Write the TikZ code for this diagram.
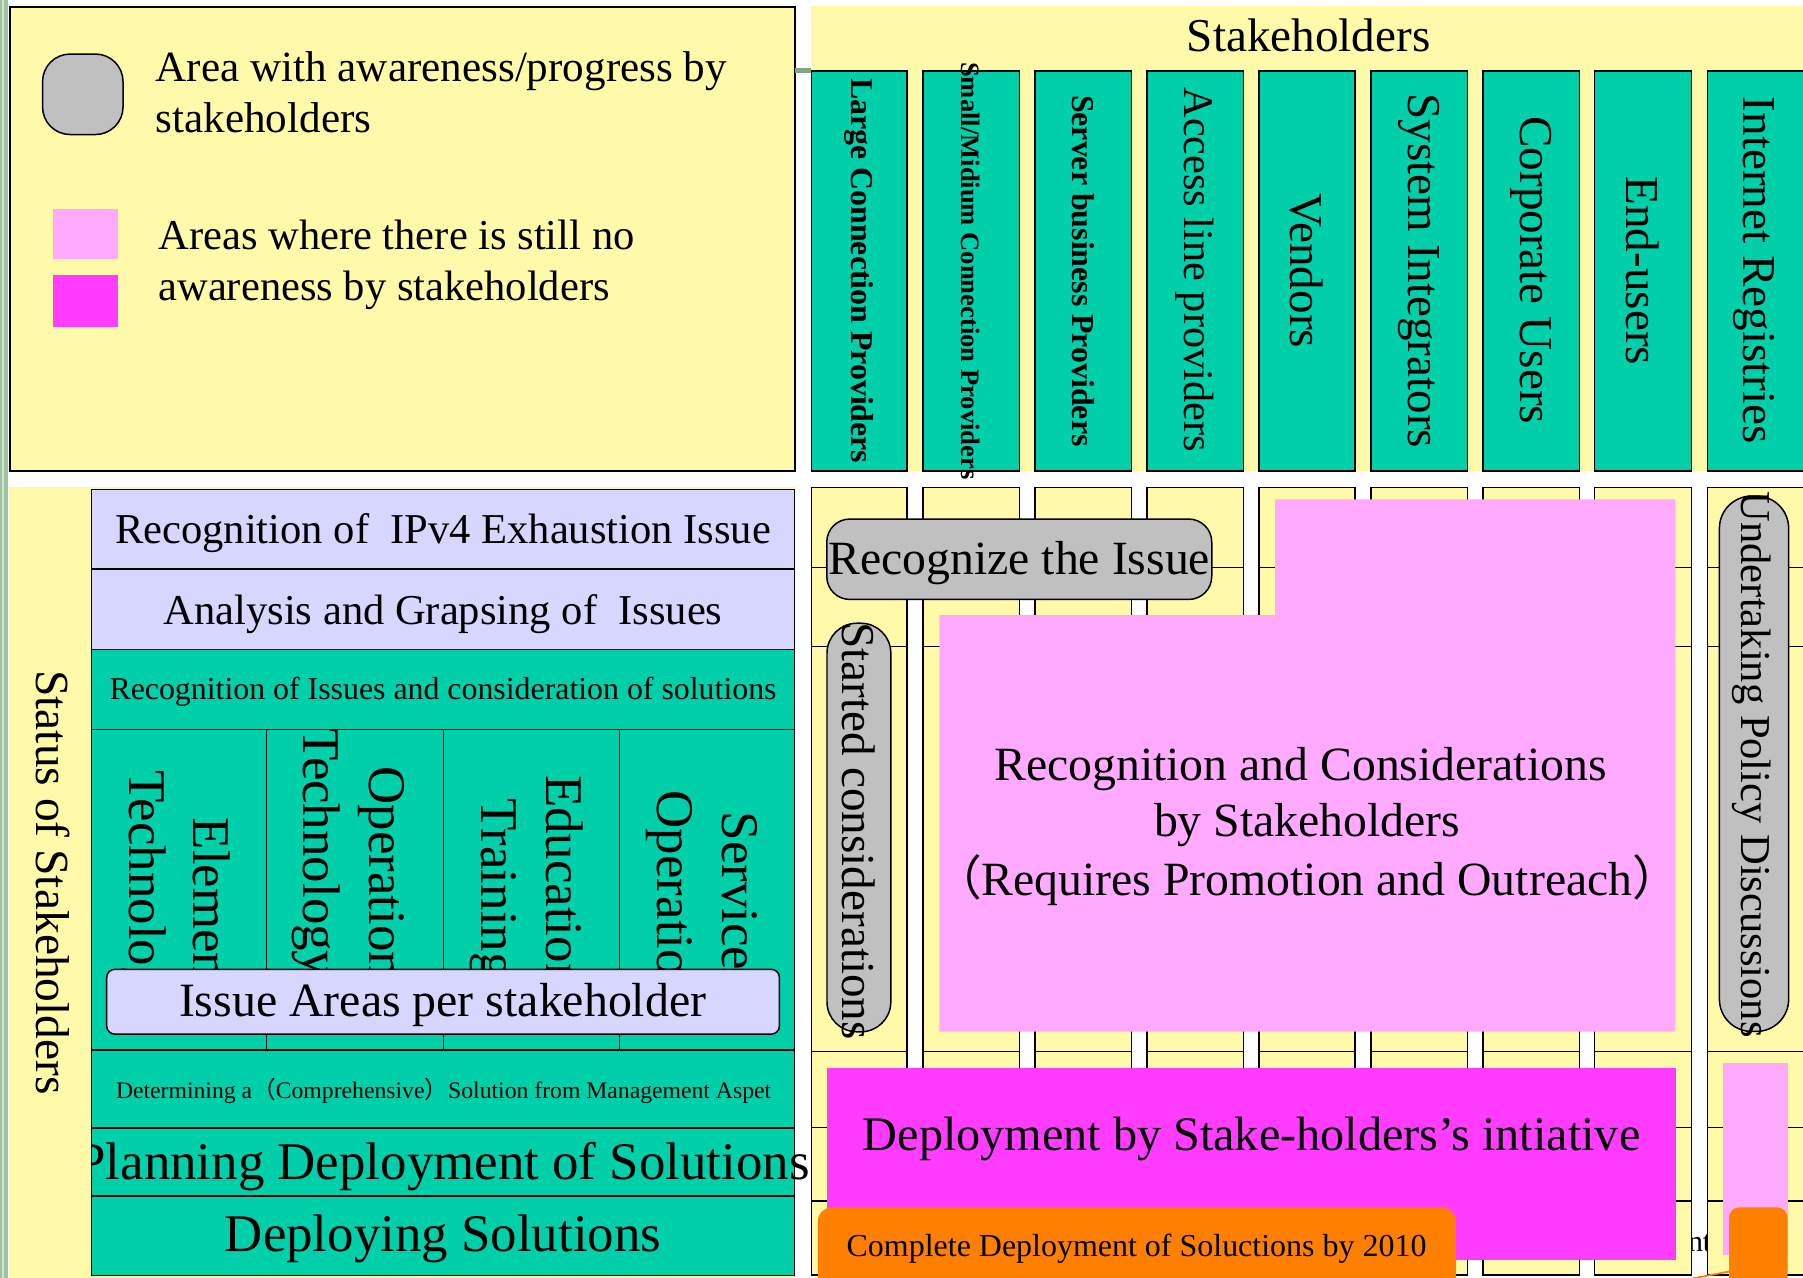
\documentclass[tikz,border=0pt]{standalone}
\usepackage{fontspec}
\setmainfont{Liberation Serif}
\newfontfamily\cjkfont{Noto Sans CJK SC}
\definecolor{cYel}{HTML}{FFFAAA}
\definecolor{cTeal}{HTML}{00D0AA}
\definecolor{cLav}{HTML}{D6D6FF}
\definecolor{cGray}{HTML}{C0C0C0}
\definecolor{cPink}{HTML}{FFAAFF}
\definecolor{cMag}{HTML}{FF3CFF}
\definecolor{cOrg}{HTML}{FF7F00}
\definecolor{cStrip}{HTML}{9EC29E}
\newcommand\myfs[1]{\fontsize{#1}{#1}\selectfont}
\tikzset{
  txt/.style={inner sep=0pt, outer sep=0pt, text=black, font=\myfs{#1}},
  vtxt/.style={txt=#1, rotate=-90},
  lw/.style={draw=black, line width=1.3pt},
  cellbox/.style={lw, fill=cYel},
  colbox/.style={lw, fill=cTeal},
  lavbox/.style={lw, fill=cLav},
  graybox/.style={lw, fill=cGray},
}
\begin{document}
\begin{tikzpicture}[x=1pt,y=-1pt]
\clip (0,0) rectangle (1568,1111);
\fill[white] (0,0) rectangle (1568,1111);
% left strip
\fill[cStrip] (0,0) rectangle (7.2,1111);
\fill[cStrip!45!white] (1.6,0) rectangle (3.6,1111);

% ---------- legend ----------
\draw[fill=cYel, draw=black, line width=1.8pt] (9,6) rectangle (691,409.5);
\draw[graybox, rounded corners=24pt] (37,47) rectangle (107,117);
\fill[cPink] (46,182) rectangle (103,225);
\fill[cMag] (46,239) rectangle (103,284);
\node[txt=37.5, anchor=base west] (leg1a) at (135.5,71) {Area with awareness/progress by};
\node[txt=37.5, anchor=base west] (leg1b) at (135.5,115.1) {stakeholders};
\node[txt=37, anchor=base west] (leg2a) at (137.8,217.4) {Areas where there is still no};
\node[txt=37, anchor=base west] (leg2b) at (137.8,261) {awareness by stakeholders};
\fill[cStrip!85!black] (691,59) rectangle (705.5,63.7);

% ---------- stakeholders header ----------
\fill[cYel] (705.5,5.5) rectangle (1570,410);
\node[txt=41, anchor=base] (stk) at (1138,45) {Stakeholders};
\foreach \x/\w in {705.8/82.8,802.6/84,900/84,997.4/84,1094.7/83.5,1192.1/84,1289.5/84,1386.8/84.1,1484.8/100}{
  \draw[colbox] (\x,61.8) rectangle ({\x+\w},409.8);
}
\node[vtxt=27.7] (h1) at (747.3,235.5) {\bfseries Large Connection Providers};
\node[vtxt=23.1] (h2) at (844.4,235.5) {\bfseries Small/Midium Connection Providers};
\node[vtxt=27.7] (h3) at (941.8,235.5) {\bfseries Server business Providers};
\node[vtxt=36.8] (h4) at (1039.2,234.5) {Access line providers};
\node[vtxt=41] (h5) at (1136.4,235.5) {Vendors};
\node[vtxt=41] (h6) at (1233.8,235.5) {System Integrators};
\node[vtxt=41] (h7) at (1331.2,235) {Corporate Users};
\node[vtxt=41] (h8) at (1428.6,235.5) {End-users};
\node[vtxt=41] (h9) at (1525,235) {Internet Registries};

% ---------- left status section ----------
\fill[cYel] (8,423.8) rectangle (691,1111);
\draw[lavbox] (79.6,425.6) rectangle (691,495);
\draw[lavbox] (79.6,495) rectangle (691,564.7);
\draw[colbox] (79.6,564.7) rectangle (691,634.6);
\draw[colbox] (79.6,634.6) rectangle (691,913);
\draw[lw] (231.9,634.6) -- (231.9,913);
\draw[lw] (385.6,634.6) -- (385.6,913);
\draw[lw] (538.6,634.6) -- (538.6,913);
\draw[colbox] (79.6,913) rectangle (691,981);
\draw[colbox] (79.6,981) rectangle (691,1040.3);
\draw[colbox] (79.6,1040.3) rectangle (691,1109.2);

\node[vtxt=41.3] (status) at (46,767.5) {Status of Stakeholders};
\node[txt=37, anchor=base] (r1) at (385.3,473) {Recognition of \ IPv4 Exhaustion Issue};
\node[txt=37, anchor=base] (r2) at (385.3,542.7) {Analysis and Grapsing of \ Issues};
\node[txt=27.7, anchor=base] (r3) at (385.3,608) {Recognition of Issues and consideration of solutions};

\node[vtxt=46, anchor=base west] (e1) at (168,711.1) {Element};
\node[vtxt=46, anchor=base west] (e2) at (113,669.7) {Technology};
\node[vtxt=46, anchor=base west] (o1) at (321,666.8) {Operation};
\node[vtxt=46, anchor=base west] (o2) at (264,633.4) {Technology};
\node[vtxt=46, anchor=base west] (d1) at (475,674) {Education};
\node[vtxt=46, anchor=base west] (d2) at (419,694.3) {Training};
\node[vtxt=46, anchor=base west] (s1) at (628,705.9) {Service};
\node[vtxt=46, anchor=base west] (s2) at (572,687.7) {Operation};

\draw[lavbox, rounded corners=7pt] (92.8,843) rectangle (677.8,899.3);
\node[txt=41.6, anchor=base] (ia) at (385,884.2) {Issue Areas per stakeholder};

\node[txt=20.6, anchor=base] (r5) at (385.8,955) {Determining a{\cjkfont （}Comprehensive{\cjkfont ）}Solution from Management Aspet};
\begin{scope}
  \clip (80.2,975) rectangle (800,1045);
  \node[txt=46, anchor=base] (r6) at (385.3,1026) {Planning Deployment of Solutions};
\end{scope}
\node[txt=46, anchor=base] (r7) at (385.3,1088.6) {Deploying Solutions};

% ---------- right grid ----------
\node[txt=26, anchor=base west] (frag) at (1468,1088.6) {nt};
\foreach \x/\w in {705.8/82.8,802.6/84,900/84,997.4/84,1094.7/83.5,1192.1/84,1289.5/84,1386.8/84.1,1484.8/100}{
  \foreach \ya/\yb in {423.8/493.4,493.4/562.4,562.4/914.6,914.6/980.7,980.7/1044.6,1044.6/1109}{
    \draw[cellbox] (\x,\ya) rectangle ({\x+\w},\yb);
  }
}

\fill[cPink] (1109,434.3) -- (1457,434.3) -- (1457,897.2) -- (816.9,897.2) -- (816.9,534.9) -- (1109,534.9) -- cycle;
\node[txt=41.5, anchor=base] (p1) at (1131,678.4) {Recognition and Considerations};
\node[txt=41.5, anchor=base] (p2) at (1136.7,727.7) {by Stakeholders};
\node[txt=41.5, anchor=base] (p3) at (1136.7,778.4) {{\cjkfont （}Requires Promotion and Outreach{\cjkfont ）}};

\draw[graybox, rounded corners=20pt] (719,451.4) rectangle (1053.8,521.3);
\node[txt=41.5, anchor=base] (rec) at (886.4,499.2) {Recognize the Issue};

\draw[graybox, rounded corners=26pt] (719.2,542) rectangle (774.7,897.3);
\node[vtxt=41] (sc) at (747,722.6) {Started considerations};

\draw[graybox, rounded corners=28pt] (1495.3,431.4) rectangle (1555.5,897);
\node[vtxt=37] (upd) at (1523,665) {Undertaking Policy Discussions};

\fill[cMag] (719.2,929.1) rectangle (1457.3,1096);
\node[txt=41.9, anchor=base] (dep) at (1088.5,1000.2) {Deployment by Stake-holders’s intiative};
\fill[cPink] (1498.5,924.8) rectangle (1555,1091.5);

\draw[cOrg, line width=1.5pt] (1466,1113) -- (1505,1105.5);
\fill[cOrg, rounded corners=12pt] (711.3,1050) rectangle (1266.1,1135);
\node[txt=27.8, anchor=base] (cmp) at (988.4,1093) {Complete Deployment of Soluctions by 2010};
\fill[cOrg, rounded corners=9pt] (1503.7,1050) rectangle (1554.5,1135);
\end{tikzpicture}
\end{document}
